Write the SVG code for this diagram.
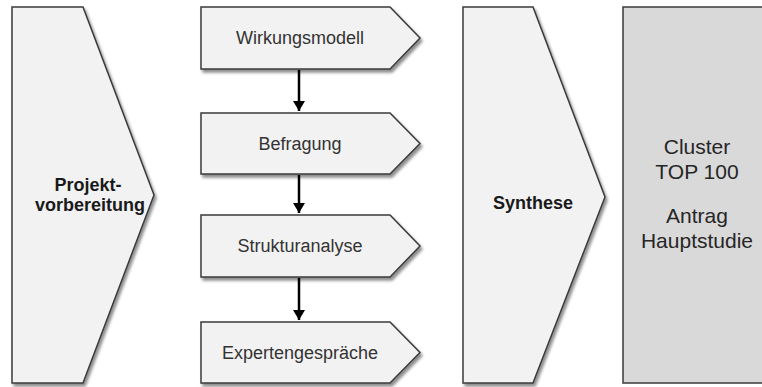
<svg xmlns="http://www.w3.org/2000/svg" width="762" height="387" viewBox="0 0 762 387">
<defs>
<filter id="sh" x="-10%" y="-10%" width="130%" height="130%">
<feGaussianBlur in="SourceAlpha" stdDeviation="1.8"/>
<feOffset dx="2" dy="2.5" result="b"/>
<feComponentTransfer><feFuncA type="linear" slope="0.45"/></feComponentTransfer>
<feMerge><feMergeNode/><feMergeNode in="SourceGraphic"/></feMerge>
</filter>
<marker id="ah" viewBox="0 0 10 12" refX="10" refY="6" markerWidth="10" markerHeight="12" orient="auto" markerUnits="userSpaceOnUse">
<path d="M0,0 L10,6 L0,12 z" fill="#000"/>
</marker>
<style>
.shape{fill:#f2f2f2;stroke:#3a3a3a;stroke-width:1.5;filter:url(#sh)}
.dark{fill:#d9d9d9;stroke:#3a3a3a;stroke-width:1.5}
.lbl{font-family:"Liberation Sans",Arial,sans-serif;font-size:18px;fill:#333;text-anchor:middle}
.bold{font-weight:bold;fill:#1a1a1a}
.big{font-size:21px;fill:#262626}
.conn{stroke:#000;stroke-width:2.5;fill:none;marker-end:url(#ah)}
</style>
</defs>
<rect width="762" height="387" fill="#fff"/>
<g id="projektvorbereitung">
<polygon class="shape" points="12,7 83,7 154,195 83,383 12,383"/>
<text class="lbl bold" x="88" y="191">Projekt-</text>
<text class="lbl bold" x="90" y="211">vorbereitung</text>
</g>
<g id="wirkungsmodell">
<polygon class="shape" points="201,7 390,7 420,38 390,69 201,69"/>
<text class="lbl" x="300" y="44">Wirkungsmodell</text>
</g>
<g id="befragung">
<polygon class="shape" points="201,113 390,113 420,143.5 390,174 201,174"/>
<text class="lbl" x="300" y="150">Befragung</text>
</g>
<g id="strukturanalyse">
<polygon class="shape" points="201,215 390,215 420,246 390,277 201,277"/>
<text class="lbl" x="300" y="252">Strukturanalyse</text>
</g>
<g id="expertengespraeche">
<polygon class="shape" points="201,322 390,322 420,352.5 390,383 201,383"/>
<text class="lbl" x="300" y="359">Expertengespräche</text>
</g>
<g id="synthese">
<polygon class="shape" points="463,7 533,7 605,197 533,383 463,383"/>
<text class="lbl bold" x="533" y="209">Synthese</text>
</g>
<g id="ergebnis">
<rect class="dark" x="623" y="7" width="150" height="376"/>
<text class="lbl big" x="697" y="154">Cluster</text>
<text class="lbl big" x="697" y="179">TOP 100</text>
<text class="lbl big" x="697" y="223">Antrag</text>
<text class="lbl big" x="697" y="248">Hauptstudie</text>
</g>
<g id="connectors">
<line class="conn" x1="299" y1="70" x2="299" y2="111"/>
<line class="conn" x1="299" y1="175" x2="299" y2="213"/>
<line class="conn" x1="299" y1="278" x2="299" y2="320"/>
</g>
</svg>
